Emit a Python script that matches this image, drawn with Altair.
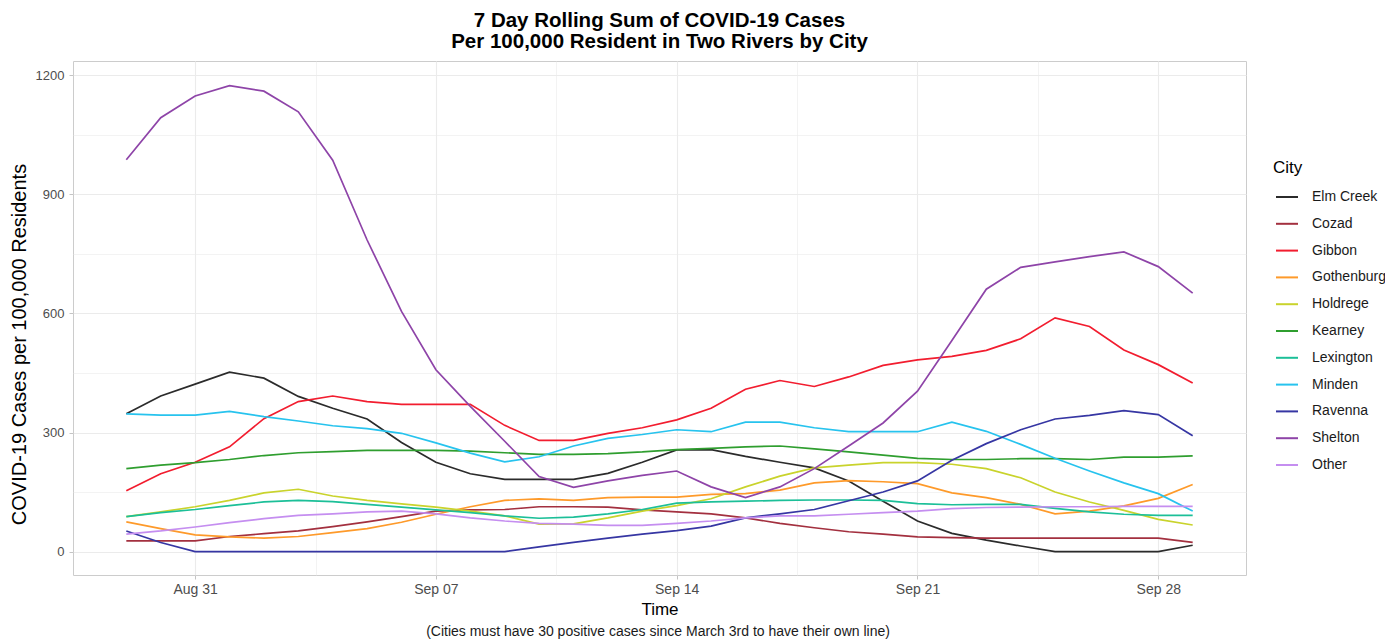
import altair as alt
import pandas as pd

# ---------------- data ----------------
dates = [d.strftime("%Y-%m-%d") for d in pd.date_range("2020-08-29", "2020-09-29", freq="D")]

cities = ["Elm Creek", "Cozad", "Gibbon", "Gothenburg", "Holdrege", "Kearney",
          "Lexington", "Minden", "Ravenna", "Shelton", "Other"]
line_colors = ["#2b2b2b", "#a3303f", "#f21d2f", "#fe9a2a", "#c9d32c", "#2f9e2f",
               "#1cbf98", "#27c3ee", "#3636a3", "#8e44a8", "#c58ef0"]

elm_creek = [347, 392, 422, 452, 437, 391, 361, 334, 275, 225, 196, 182, 182, 182, 197, 225,
             256, 257, 240, 225, 211, 178, 127, 77, 46, 29, 14, 0, 0, 0, 0, 16]
cozad = [27, 27, 27, 38, 45, 52, 63, 75, 88, 102, 105, 106, 113, 113, 112, 105,
         100, 95, 85, 71, 60, 50, 44, 37, 35, 34, 34, 34, 34, 34, 34, 23]
gibbon = [153, 196, 225, 264, 335, 378, 392, 378, 371, 371, 371, 318, 280, 280, 298, 312,
          332, 361, 409, 431, 416, 440, 469, 483, 492, 507, 536, 589, 567, 508, 471, 425]
gothenburg = [75, 58, 42, 37, 34, 38, 48, 58, 74, 94, 113, 129, 133, 129, 136, 137,
              137, 144, 146, 155, 173, 179, 176, 171, 148, 136, 119, 95, 102, 115, 134, 169]
holdrege = [88, 100, 113, 129, 148, 157, 140, 129, 120, 112, 102, 90, 69, 70, 85, 102,
            116, 133, 163, 190, 211, 218, 224, 224, 220, 209, 186, 150, 125, 104, 81, 67]
kearney = [209, 218, 224, 232, 242, 249, 252, 255, 255, 255, 253, 249, 245, 245, 247, 251,
           257, 260, 264, 266, 259, 251, 243, 235, 232, 232, 234, 234, 232, 238, 238, 241]
lexington = [88, 98, 106, 116, 125, 129, 126, 119, 112, 105, 98, 90, 84, 87, 95, 106,
             122, 125, 127, 129, 130, 130, 129, 121, 118, 119, 119, 109, 100, 94, 91, 91]
minden = [347, 344, 344, 353, 340, 329, 317, 310, 298, 274, 248, 226, 239, 266, 285, 295,
          307, 302, 326, 326, 312, 302, 302, 302, 326, 303, 270, 235, 203, 173, 146, 102]
ravenna = [52, 23, 0, 0, 0, 0, 0, 0, 0, 0, 0, 0, 12, 23, 34, 44,
           53, 64, 85, 95, 106, 128, 150, 178, 230, 272, 307, 334, 343, 355, 345, 292]
shelton = [987, 1093, 1148, 1174, 1160, 1108, 986, 785, 605, 458, 366, 278, 189, 162, 178, 192,
           203, 163, 136, 163, 209, 266, 324, 404, 532, 661, 716, 730, 743, 755, 718, 651]
other = [44, 52, 62, 73, 83, 91, 95, 100, 102, 95, 85, 77, 71, 69, 66, 66,
         71, 77, 85, 90, 90, 94, 98, 102, 108, 111, 112, 113, 113, 114, 114, 114]

all_series = [elm_creek, cozad, gibbon, gothenburg, holdrege, kearney,
              lexington, minden, ravenna, shelton, other]

title_lines = ["7 Day Rolling Sum of COVID-19 Cases",
               "Per 100,000 Resident in Two Rivers by City"]
y_title = "COVID-19 Cases per 100,000 Residents"
x_title = "Time"
legend_title = "City"
caption_text = "(Cities must have 30 positive cases since March 3rd to have their own line)"

rows = []
for city, vals in zip(cities, all_series):
    for d, v in zip(dates, vals):
        rows.append({"date": d, "city": city, "value": v})
df = pd.DataFrame(rows)


def ms(s):
    return int(pd.Timestamp(s, tz="UTC").value // 10**6)


x_domain = [ms("2020-08-27 10:48"), ms("2020-09-30 13:12")]
x_ticks = [ms(s) for s in ["2020-08-31", "2020-09-03 12:00", "2020-09-07", "2020-09-10 12:00",
                           "2020-09-14", "2020-09-17 12:00", "2020-09-21", "2020-09-24 12:00",
                           "2020-09-28"]]
y_ticks = list(range(0, 1201, 150))

FONT = "Liberation Sans"
major_x = "utchours(datum.value) == 0"
major_y = "datum.value % 300 == 0"

lines = alt.Chart(df).mark_line(strokeWidth=1.7).encode(
    x=alt.X(
        "date:T",
        scale=alt.Scale(type="utc", domain=x_domain, nice=False),
        axis=alt.Axis(
            title=x_title, values=x_ticks,
            labelExpr=f"{major_x} ? utcFormat(datum.value, '%b %d') : ''",
            labelOverlap=False, labelFlush=False,
            tickSize=4,
            tickOpacity={"condition": {"test": major_x, "value": 1}, "value": 0},
            gridWidth={"condition": {"test": major_x, "value": 1.1}, "value": 0.6},
            labelFontSize=14, labelPadding=3,
            titleFontSize=17, titleY=39, titleBaseline="alphabetic",
        ),
    ),
    y=alt.Y(
        "value:Q",
        scale=alt.Scale(domain=[-59, 1236], nice=False, zero=False),
        axis=alt.Axis(
            title=y_title, values=y_ticks,
            labelExpr=f"{major_y} ? format(datum.value, 'd') : ''",
            labelOverlap=False, labelFlush=False,
            tickSize=4,
            tickOpacity={"condition": {"test": major_y, "value": 1}, "value": 0},
            gridWidth={"condition": {"test": major_y, "value": 1.1}, "value": 0.6},
            labelFontSize=13, labelPadding=5,
            titleFontSize=20, titleX=-48, titleY=283, titleAngle=270,
            titleAlign="center", titleBaseline="alphabetic",
        ),
    ),
    color=alt.Color(
        "city:N",
        scale=alt.Scale(domain=cities, range=line_colors),
        legend=alt.Legend(
            title=legend_title, orient="none", legendX=1200, legendY=99,
            symbolType="stroke", symbolSize=484, symbolStrokeWidth=2,
            symbolOffset=2, labelOffset=13, rowPadding=7.8, padding=0,
            titleFontSize=17, titleFontWeight="normal", titlePadding=8,
            titleColor="#000000", labelFontSize=14, labelColor="#1a1a1a",
            titleFont=FONT, labelFont=FONT,
        ),
    ),
)

caption = alt.Chart(pd.DataFrame({"text": [caption_text]})).mark_text(
    font=FONT, fontSize=14, color="#1a1a1a", baseline="alphabetic", align="center"
).encode(text="text:N", x=alt.value(585), y=alt.value(575))

chart = alt.layer(lines, caption).properties(
    width=1173, height=514,
    title=alt.Title(title_lines, fontSize=20.5, font=FONT, fontWeight="bold",
                    lineHeight=21, anchor="middle", offset=9, color="#000000"),
    autosize=alt.AutoSizeParams(type="none"),
    padding={"left": 65, "top": 53, "right": 139, "bottom": 65},
).configure_view(
    stroke="#cccccc", strokeWidth=1
).configure_axis(
    gridColor="#ebebeb", domain=False, labelColor="#4d4d4d", titleColor="#000000",
    labelFont=FONT, titleFont=FONT, titleFontWeight="normal", tickColor="#c4c4c4",
)

chart.save("out.html", embed_options={"renderer": "svg", "actions": False})
